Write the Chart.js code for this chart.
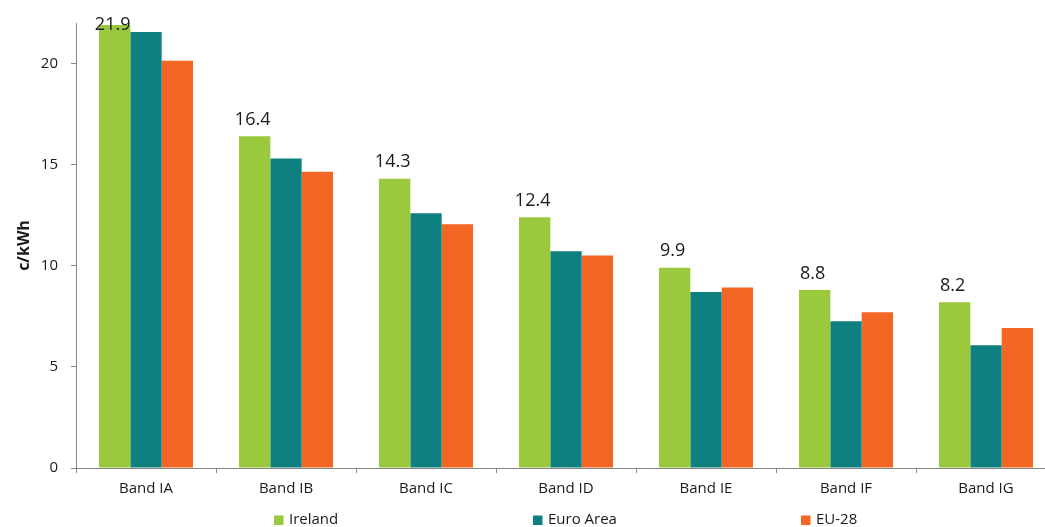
<!DOCTYPE html>
<html>
<head>
<meta charset="utf-8">
<script src="https://cdn.jsdelivr.net/npm/chart.js@4.4.1/dist/chart.umd.min.js"></script>
<style>
  html, body { margin: 0; padding: 0; background: #fff; overflow: hidden; }
  #wrap { position: relative; width: 1058px; height: 527px; }
</style>
</head>
<body>
<div id="wrap"><canvas id="chart"></canvas></div>
<script>
const bands = ['Band IA', 'Band IB', 'Band IC', 'Band ID', 'Band IE', 'Band IF', 'Band IG'];
const ireland = [21.9, 16.4, 14.3, 12.4, 9.9, 8.8, 8.2];
const euroArea = [21.55, 15.3, 12.6, 10.72, 8.7, 7.26, 6.07];
const eu28 = [20.13, 14.65, 12.05, 10.5, 8.92, 7.7, 6.92];
const yTicks = [0, 5, 10, 15, 20];

const FONT = "'Open Sans', 'Noto Sans', sans-serif";
const TXT = '#1a1a1a';
const AXIS = '#858585';

// value labels above the Ireland bars
const valueLabels = {
  id: 'valueLabels',
  afterDatasetsDraw(chart) {
    const ctx = chart.ctx;
    const meta = chart.getDatasetMeta(0);
    ctx.save();
    ctx.font = '18px ' + FONT;
    ctx.fillStyle = TXT;
    ctx.textAlign = 'center';
    ctx.textBaseline = 'alphabetic';
    meta.data.forEach((bar, i) => {
      const y = Math.max(bar.y - 11.5, 29.5);
      ctx.fillText(ireland[i].toFixed(1), bar.x - 2, y);
    });
    ctx.restore();
  }
};

// legend spread along the bottom edge
const bottomLegend = {
  id: 'bottomLegend',
  afterDraw(chart) {
    const ctx = chart.ctx;
    const starts = [274, 533, 801];
    ctx.save();
    ctx.font = '15px ' + FONT;
    ctx.textBaseline = 'middle';
    chart.data.datasets.forEach((ds, i) => {
      const x = starts[i];
      ctx.fillStyle = ds.backgroundColor;
      ctx.fillRect(x, 515.5, 9.5, 9.5);
      ctx.fillStyle = TXT;
      ctx.fillText(ds.label, x + 15, 520);
    });
    ctx.restore();
  }
};

new Chart(document.getElementById('chart'), {
  type: 'bar',
  data: {
    labels: bands,
    datasets: [
      { label: 'Ireland', data: ireland, backgroundColor: '#9bc93d' },
      { label: 'Euro Area', data: euroArea, backgroundColor: '#0e807f' },
      { label: 'EU-28', data: eu28, backgroundColor: '#f46623' }
    ]
  },
  options: {
    responsive: true,
    maintainAspectRatio: false,
    animation: false,
    layout: { padding: { top: 23, right: 2, left: 0, bottom: 0 } },
    datasets: { bar: { categoryPercentage: 0.672, barPercentage: 1.0 } },
    plugins: { legend: { display: false }, tooltip: { enabled: false } },
    scales: {
      x: {
        grid: { display: true, drawOnChartArea: false, offset: true, tickLength: 5, color: AXIS },
        border: { display: true, color: AXIS, width: 1 },
        ticks: { color: TXT, font: { family: FONT, size: 15 }, padding: 7, maxRotation: 0 },
        afterFit(s) { s.height = 59; }
      },
      y: {
        min: 0,
        max: 22,
        afterBuildTicks(s) { s.ticks = yTicks.map(v => ({ value: v })); },
        grid: { display: true, drawOnChartArea: false, tickLength: 5, color: AXIS },
        border: { display: true, color: AXIS, width: 1 },
        ticks: { color: TXT, font: { family: FONT, size: 15 }, padding: 13 },
        title: {
          display: true,
          text: 'c/kWh',
          color: TXT,
          font: { family: FONT, size: 16, weight: 'bold' },
          padding: { top: 15, bottom: 0 }
        },
        afterFit(s) { s.width = 76; }
      }
    }
  },
  plugins: [valueLabels, bottomLegend]
});
</script>
</body>
</html>
